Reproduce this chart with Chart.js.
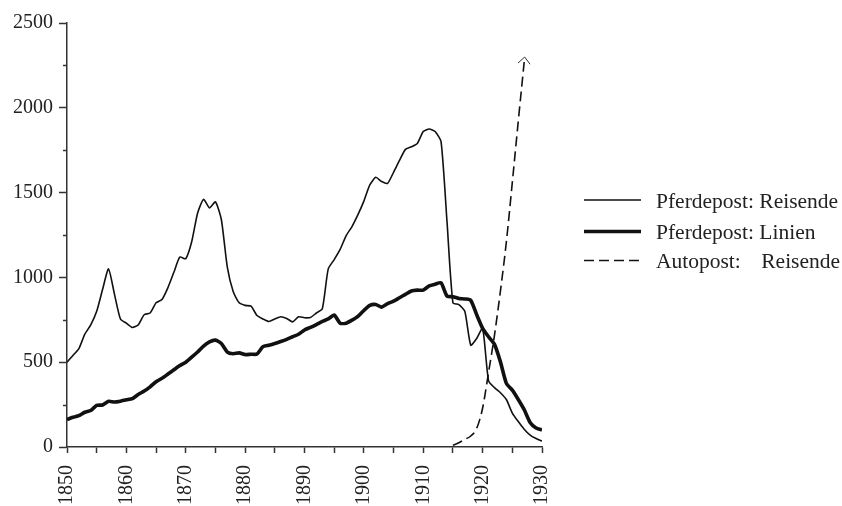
<!DOCTYPE html>
<html>
<head>
<meta charset="utf-8">
<script src="https://cdn.jsdelivr.net/npm/chart.js@4.4.1/dist/chart.umd.min.js"></script>
<style>
  html, body { margin: 0; padding: 0; background: #fff; }
  #wrap { width: 842px; height: 506px; }
</style>
</head>
<body>
<div id="wrap"><canvas id="postChart" width="842" height="506"></canvas></div>
<script>
// Jahre 1850-1930
const jahre = [
  1850, 1851, 1852, 1853, 1854, 1855, 1856, 1857, 1858, 1859,
  1860, 1861, 1862, 1863, 1864, 1865, 1866, 1867, 1868, 1869,
  1870, 1871, 1872, 1873, 1874, 1875, 1876, 1877, 1878, 1879,
  1880, 1881, 1882, 1883, 1884, 1885, 1886, 1887, 1888, 1889,
  1890, 1891, 1892, 1893, 1894, 1895, 1896, 1897, 1898, 1899,
  1900, 1901, 1902, 1903, 1904, 1905, 1906, 1907, 1908, 1909,
  1910, 1911, 1912, 1913, 1914, 1915, 1916, 1917, 1918, 1919,
  1920, 1921, 1922, 1923, 1924, 1925, 1926, 1927, 1928, 1929,
  1930
];

// Pferdepost: Reisende (in 1000)
const pferdReisende = [
  500, 540, 580, 665, 720, 800, 930, 1050, 900, 755,
  730, 705, 720, 780, 790, 850, 870, 940, 1030, 1120,
  1110, 1210, 1380, 1460, 1410, 1445, 1340, 1060, 915, 850,
  835, 830, 775, 755, 740, 755, 768, 758, 738, 768,
  762, 764, 790, 815, 1050, 1105, 1165, 1245, 1300, 1370,
  1450, 1545, 1590, 1565, 1555, 1620, 1690, 1755, 1770, 1790,
  1860, 1875, 1860, 1800, 1330, 850, 840, 800, 600, 640,
  700, 390, 350, 320, 280, 200, 150, 105, 70, 50,
  35
];

// Pferdepost: Linien
const pferdLinien = [
  162, 175, 185, 205, 215, 245, 248, 270, 265, 270,
  278, 285, 310, 330, 355, 385, 405, 430, 455, 480,
  500, 530, 560, 595, 620, 630, 610, 560, 550, 555,
  545, 547, 548, 592, 600, 610, 622, 635, 650, 665,
  690, 705, 722, 740, 755, 778, 730, 730, 748, 770,
  805, 835, 840, 825, 845, 860, 880, 900, 920, 925,
  925, 950, 960, 968, 890, 886, 876, 873, 865, 780,
  700, 650, 605, 502, 375, 335, 280, 220, 145, 112,
  100
];

// Autopost: Reisende
const autoJahre = [1915, 1916, 1917, 1918, 1919, 1920, 1921, 1922, 1923, 1924, 1925, 1926, 1927];
const autoReisende = [10, 25, 45, 65, 110, 230, 440, 660, 920, 1210, 1560, 1920, 2270];

const xTicks = [1850, 1860, 1870, 1880, 1890, 1900, 1910, 1920, 1930];
const yTicks = [0, 500, 1000, 1500, 2000, 2500];

const schrift = "'Liberation Serif', 'Times New Roman', serif";
const tinte = '#111';
const achse = '#333';

function punkte(xs, ys) {
  return xs.map((x, i) => ({ x: x, y: ys[i] }));
}

// Legende rechts, selbst gezeichnet
const legendePlugin = {
  id: 'legende',
  afterDraw(chart) {
    const ctx = chart.ctx;
    const zeilen = [
      { lineY: 200, textY: 208 },
      { lineY: 231.5, textY: 239 },
      { lineY: 260.5, textY: 268 }
    ];
    ctx.save();
    ctx.font = '21.5px ' + schrift;
    ctx.fillStyle = '#222';
    ctx.textBaseline = 'alphabetic';
    chart.data.datasets.forEach((ds, i) => {
      const z = zeilen[i];
      ctx.strokeStyle = tinte;
      ctx.lineWidth = ds.borderWidth;
      ctx.setLineDash(ds.borderDash || []);
      ctx.beginPath();
      ctx.moveTo(584, z.lineY);
      ctx.lineTo(641, z.lineY);
      ctx.stroke();
      ctx.setLineDash([]);
      ctx.fillText(ds.label, 656, z.textY);
    });
    ctx.restore();
  }
};

// kurze Zwischenstriche auf der y-Achse
const nebenStrichePlugin = {
  id: 'nebenstriche',
  afterDraw(chart) {
    const y = chart.scales.y;
    const ctx = chart.ctx;
    ctx.save();
    ctx.strokeStyle = achse;
    ctx.lineWidth = 1.5;
    y.ticks.forEach(t => {
      if (yTicks.includes(t.value)) return;
      const py = Math.round(y.getPixelForValue(t.value)) + 0.5;
      ctx.beginPath();
      ctx.moveTo(y.right - 4, py);
      ctx.lineTo(y.right, py);
      ctx.stroke();
    });
    ctx.restore();
  }
};

// Pfeilspitze am Ende der Autopost-Linie
const pfeilPlugin = {
  id: 'pfeil',
  afterDatasetsDraw(chart) {
    const meta = chart.getDatasetMeta(2);
    const n = meta.data.length;
    const a = meta.data[n - 2], b = meta.data[n - 1];
    const ang = Math.atan2(b.y - a.y, b.x - a.x);
    const tx = b.x + Math.cos(ang) * 5, ty = b.y + Math.sin(ang) * 5;
    const ctx = chart.ctx;
    ctx.save();
    ctx.strokeStyle = achse;
    ctx.lineWidth = 1;
    ctx.beginPath();
    ctx.moveTo(tx + Math.cos(ang + 2.4) * 9, ty + Math.sin(ang + 2.4) * 9);
    ctx.lineTo(tx, ty);
    ctx.lineTo(tx + Math.cos(ang - 2.4) * 9, ty + Math.sin(ang - 2.4) * 9);
    ctx.stroke();
    ctx.restore();
  }
};

const ctx = document.getElementById('postChart').getContext('2d');
new Chart(ctx, {
  type: 'line',
  data: {
    datasets: [
      {
        label: 'Pferdepost: Reisende',
        data: punkte(jahre, pferdReisende),
        borderColor: tinte,
        borderWidth: 1.6,
        tension: 0.2
      },
      {
        label: 'Pferdepost: Linien',
        data: punkte(jahre, pferdLinien),
        borderColor: tinte,
        borderWidth: 3.6,
        tension: 0.2
      },
      {
        label: 'Autopost:\u00a0\u00a0\u00a0\u2009Reisende',
        data: punkte(autoJahre, autoReisende),
        borderColor: tinte,
        borderWidth: 1.6,
        borderDash: [10, 5],
        cubicInterpolationMode: 'monotone'
      }
    ]
  },
  options: {
    responsive: false,
    animation: false,
    layout: { padding: { top: 23, right: 300, left: 0, bottom: 0 } },
    elements: { point: { radius: 0 } },
    plugins: {
      legend: { display: false },
      tooltip: { enabled: false }
    },
    scales: {
      x: {
        type: 'linear',
        min: 1850,
        max: 1930,
        afterFit: s => { s.height = 59; },
        border: { color: achse, width: 1.5 },
        grid: { drawOnChartArea: false, color: achse, tickLength: 6, tickWidth: 1.5 },
        ticks: {
          stepSize: 5,
          autoSkip: false,
          minRotation: 90,
          maxRotation: 90,
          padding: 12,
          color: '#222',
          font: { family: schrift, size: 20 },
          callback: v => xTicks.includes(v) ? String(v) : ''
        }
      },
      y: {
        min: 0,
        max: 2500,
        afterFit: s => { s.width = 67; },
        border: { color: achse, width: 1.5 },
        grid: {
          drawOnChartArea: false,
          tickLength: 8,
          tickWidth: 1.5,
          tickColor: c => (c.tick && yTicks.includes(c.tick.value)) ? achse : 'rgba(0,0,0,0)'
        },
        ticks: {
          stepSize: 250,
          padding: 6,
          color: '#222',
          font: { family: schrift, size: 20 },
          callback: v => yTicks.includes(v) ? String(v) : ''
        }
      }
    }
  },
  plugins: [legendePlugin, nebenStrichePlugin, pfeilPlugin]
});
</script>
</body>
</html>
